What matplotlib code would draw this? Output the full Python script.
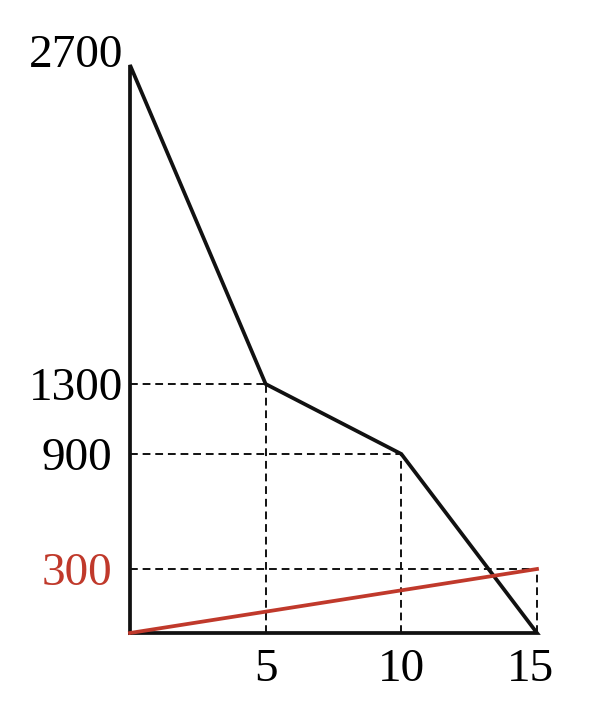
import numpy as np
import matplotlib
matplotlib.use('Agg')
import matplotlib.pyplot as plt
import matplotlib.transforms as mtransforms

# data
x_pts = [0, 5, 10, 15]
y_pts = [2700, 1300, 900, 0]
red_x = [0, 15]
red_y = [0, 300]
x_ticks = [5, 10, 15]
y_ticks = [300, 900, 1300, 2700]
y_labels = ['300', '900', '1300', '2700']

black = '#111111'
red = '#C0392B'

# the sketch is not drawn to scale on y: piecewise mapping value -> height
scale_vals = [0, 300, 900, 1300, 2700]
scale_pos = [0, 64, 179, 249, 568]


def fwd(v):
    return np.interp(v, scale_vals, scale_pos)


def inv(p):
    return np.interp(p, scale_pos, scale_vals)


plt.rcParams['font.family'] = ['Liberation Serif', 'DejaVu Serif']

fig = plt.figure(figsize=(5.91, 7.09), dpi=100)
W, H = 591, 709
x0, x1 = 130, 537
yb, yt = 633, 65
ax = fig.add_axes([x0 / W, (H - yb) / H, (x1 - x0) / W, (yb - yt) / H])
ax.set_yscale('function', functions=(fwd, inv))
ax.set_xlim(0, 15)
ax.set_ylim(0, 2700)

# dashed guides
dash = dict(color=black, lw=1.4, ls=(0, (4, 2.5)), clip_on=False, zorder=1)
for xi, yi in zip(x_pts[1:], [y_pts[1], y_pts[2], red_y[1]]):
    ax.plot([0, xi], [yi, yi], **dash)
    ax.plot([xi, xi], [0, yi], **dash)

# main outline
px = [0, 0] + x_pts[1:] + [0]
py = [0, 2700] + y_pts[1:] + [0]
ax.plot(px, py, color=black, lw=2.7, clip_on=False, solid_joinstyle='miter', zorder=3)

# red line
ax.plot(red_x, red_y, color=red, lw=2.7, clip_on=False, zorder=4)

for s in ax.spines.values():
    s.set_visible(False)

ax.set_xticks(x_ticks)
ax.set_xticklabels([str(t) for t in x_ticks])
ax.set_yticks(y_ticks)
ax.set_yticklabels(y_labels)
ax.tick_params(axis='both', length=0, labelsize=34)
ax.tick_params(axis='y', pad=5)
ax.tick_params(axis='x', pad=11)
ylabs = ax.get_yticklabels()
ylabs[0].set_color(red)
ylabs[-1].set_transform(ylabs[-1].get_transform() +
                        mtransforms.ScaledTranslation(0, 10 / 72, fig.dpi_scale_trans))
for lab in ylabs[:2]:
    lab.set_transform(lab.get_transform() +
                      mtransforms.ScaledTranslation(-8 / 72, 0, fig.dpi_scale_trans))
xlabs = ax.get_xticklabels()
xlabs[-1].set_transform(xlabs[-1].get_transform() +
                        mtransforms.ScaledTranslation(-5 / 72, 0, fig.dpi_scale_trans))

fig.savefig('out.png', dpi=100)
